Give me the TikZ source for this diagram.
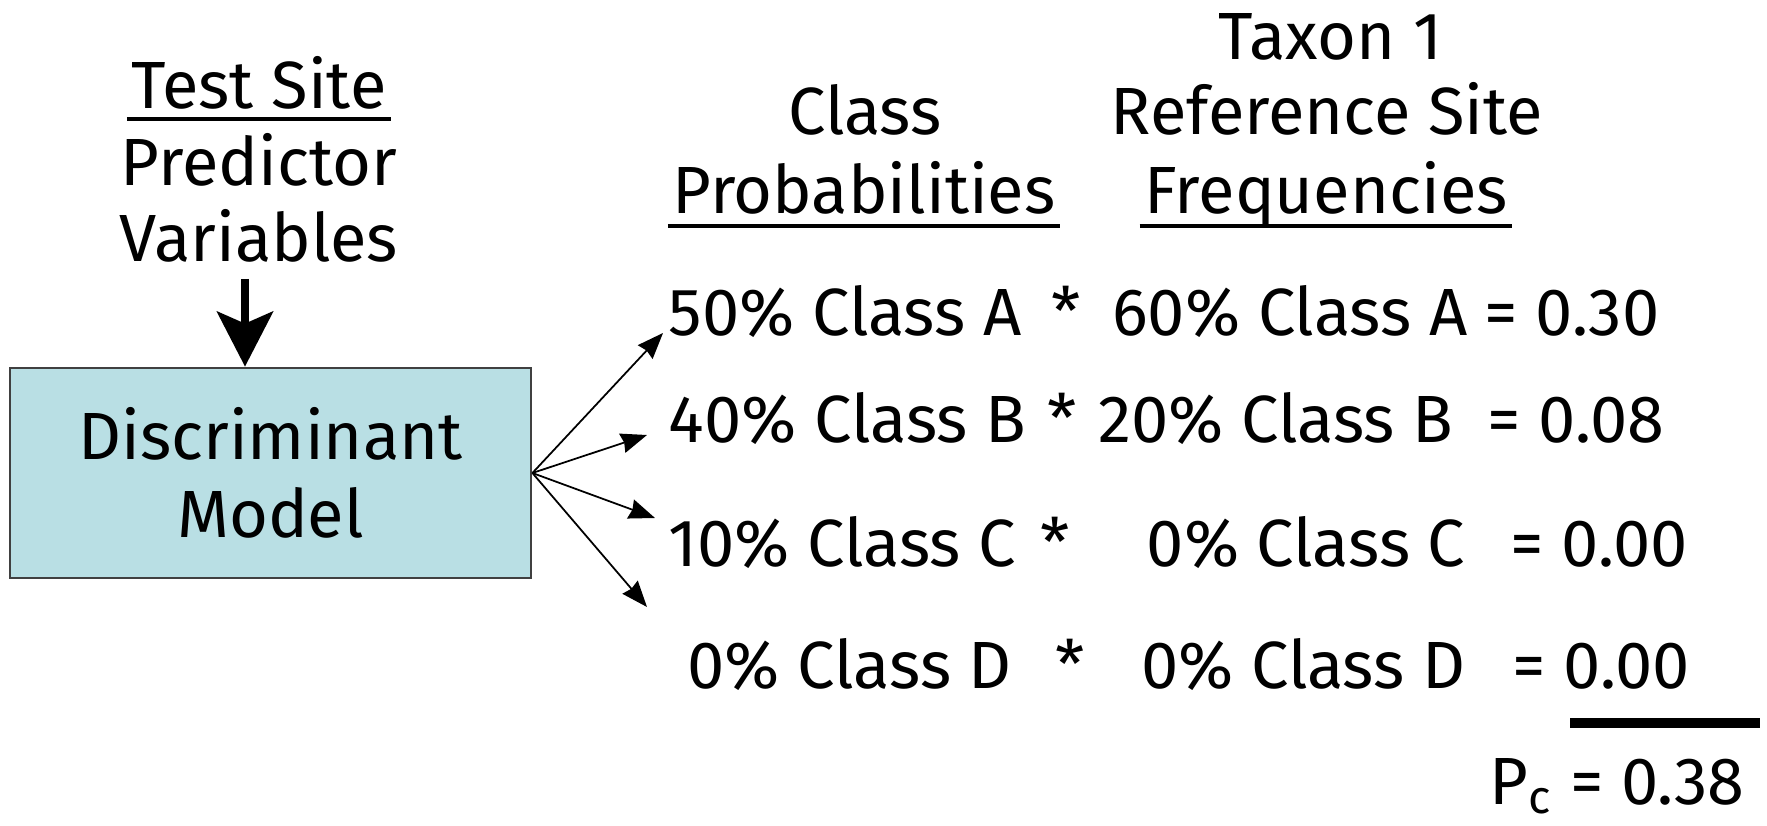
\documentclass[tikz,border=0pt]{standalone}
\usepackage{fontspec}
\setmainfont{Fira Sans}
\usepackage{tikz}
\usetikzlibrary{arrows.meta, positioning}
\definecolor{modelfill}{RGB}{185,223,228}

\begin{document}
\begin{tikzpicture}[
  txt/.style={inner sep=0pt, font=\fontsize{19}{22}\selectfont},
  modelbox/.style={rectangle, draw=black!75, line width=0.8pt, fill=modelfill,
    minimum width=5.21cm, minimum height=2.10cm, align=center,
    font=\fontsize{19}{22}\selectfont},
  ulline/.style={line width=1.3pt},
  bigarr/.style={-{Stealth[length=5.5mm, width=5.6mm, inset=1.2mm]}, line width=2.2pt},
  fan/.style={-{Stealth[length=2.6mm, width=2.0mm, inset=0.2mm]}, line width=0.5pt}
]
  \useasboundingbox (0,0) rectangle (17.67,8.25);

  %% test site
  \node[txt, anchor=base] (testsite) at (2.59,7.16) {Test Site};
  \node[txt, anchor=base] (predictor) at (2.59,6.39) {Predictor};
  \node[txt, anchor=base] (variables) at (2.59,5.63) {Variables};
  \node[modelbox] (model) at (2.705,3.52) {Discriminant\\Model};

  \coordinate (arrtop) at (2.45,5.46);
  \draw[bigarr] (arrtop) -- (arrtop |- model.north);

  %% column heads
  \node[txt, anchor=base] (taxon) at (13.30,7.65) {Taxon 1};
  \node[txt, anchor=base] (classhd) at (8.65,6.90) {Class};
  \node[txt, anchor=base] (refsite) at (13.27,6.90) {Reference Site};
  \node[txt, anchor=base] (probs) at (8.64,6.12) {Probabilities};
  \node[txt, anchor=base] (freqs) at (13.26,6.12) {Frequencies};

  %% underlines
  \foreach \u/\d in {testsite/0.10, probs/0.13, freqs/0.13}
    \draw[ulline] ([xshift=-0.04cm, yshift=-\d cm]\u.base west)
      -- ([xshift=0.04cm, yshift=-\d cm]\u.base east);

  %% rows: prob * freq = product
  \foreach \n/\y/\px/\pa/\sx/\fx/\fa/\rx/\ra in {
      1/4.90/6.68/50\% Class A/10.66/14.68/60\% Class A/14.84/0.30,
      2/3.83/6.68/40\% Class B/10.62/14.54/20\% Class B/14.87/0.08,
      3/2.59/6.68/10\% Class C/10.55/14.66/0\% Class C/15.10/0.00,
      4/1.37/6.87/0\% Class D/10.70/14.66/0\% Class D/15.12/0.00}{
    \node[txt, anchor=base west] (prob\n) at (\px,\y) {\pa};
    \node[txt, anchor=base] (star\n) at (\sx,\y) {*};
    \node[txt, anchor=base east] (freq\n) at (\fx,\y) {\fa};
    \node[txt, anchor=base west] (res\n) at (\rx,\y) {= \ra};
  }

  \coordinate (t1) at (6.63,4.92);
  \coordinate (t2) at (6.47,3.90);
  \coordinate (t3) at (6.55,3.07);
  \coordinate (t4) at (6.47,2.18);
  \foreach \t in {t1,t2,t3,t4}
    \draw[fan] (model.east) -- (\t);

  %% total
  \coordinate (sumL) at (15.70,1.02);
  \coordinate (sumR) at (17.60,1.02);
  \draw[line width=2.8pt] (sumL) -- (sumR);
  \node[txt, anchor=base east] (pc) at (17.45,0.21) {P\textsubscript{c} = 0.38};
\end{tikzpicture}
\end{document}
